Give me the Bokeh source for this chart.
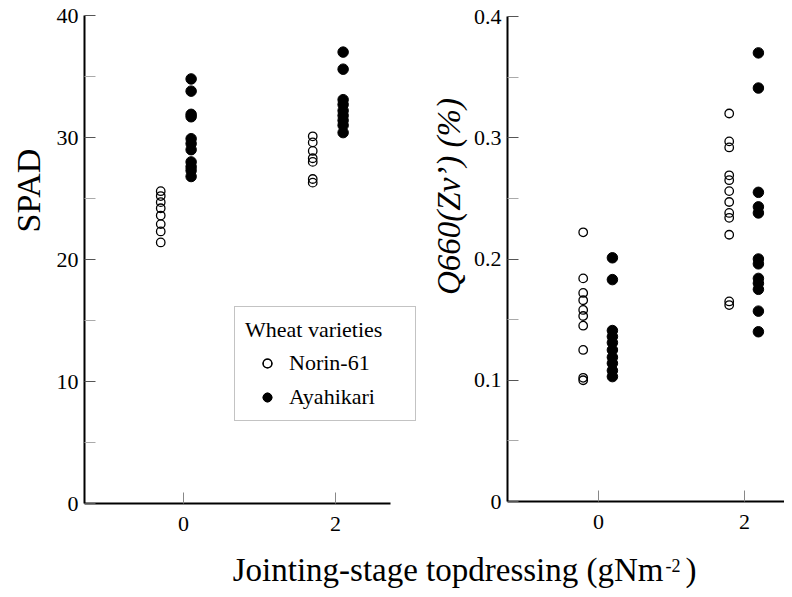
from bokeh.plotting import figure
from bokeh.models import (Legend, LegendItem, Label, LinearAxis, FixedTicker, Range1d)
from bokeh.embed import file_html
from bokeh.resources import INLINE

# ---------------- data ----------------
dose_levels = [0, 2]
# SPAD (left panel)
spad_norin_0 = [25.6, 25.2, 24.7, 24.2, 23.6, 22.9, 22.3, 21.4]
spad_aya_0 = [34.8, 33.8, 31.9, 31.7, 29.9, 29.5, 29.0, 28.0, 27.6, 27.3, 26.8]
spad_norin_2 = [30.1, 29.6, 28.9, 28.3, 28.0, 26.6, 26.3]
spad_aya_2 = [37.0, 35.6, 33.1, 32.7, 32.2, 31.8, 31.4, 31.0, 30.4]
# Q660(Zv') (right panel)
q_norin_0 = [0.222, 0.184, 0.172, 0.166, 0.158, 0.153, 0.145, 0.125, 0.102, 0.100]
q_aya_0 = [0.201, 0.183, 0.141, 0.136, 0.131, 0.125, 0.119, 0.114, 0.108, 0.103]
q_norin_2 = [0.320, 0.297, 0.292, 0.269, 0.265, 0.256, 0.247, 0.238, 0.234, 0.220, 0.165, 0.162]
q_aya_2 = [0.370, 0.341, 0.255, 0.243, 0.238, 0.200, 0.196, 0.184, 0.180, 0.175, 0.157, 0.140]
# horizontal offsets of the two varieties around each dose (data units)
spad_offsets = {"Norin-61": -0.3, "Ayahikari": 0.1}
q_offsets = {"Norin-61": -0.21, "Ayahikari": 0.19}

x_ticks = [0, 2]
spad_ticks = [0, 10, 20, 30, 40]
spad_minor = [5, 15, 25, 35]
q_ticks = [0, 0.1, 0.2, 0.3, 0.4]
q_minor = [0.05, 0.15, 0.25, 0.35]

FONT = "Liberation Serif"
OPEN = dict(marker="circle", size=8.5, line_color="black", line_width=1.3, fill_alpha=0)
FILLED = dict(marker="circle", size=10.5, line_color="black", fill_color="black")

# ---------------- canvas geometry (pixels) ----------------
W, H = 784, 589
# left panel: x=-1.303 at px 84, 76 px per unit; y=0 at py 503, 12.2 px per unit
L_X0, L_PX0, L_SX = -1.303, 84, 76.0
L_PY0, L_SY = 503, 488 / 40.0
# right panel: x=-1.247 at px 507, 73 px per unit; y=0 at py 501, 1212.5 px per unit
R_X0, R_PX0, R_SX = -1.247, 507, 73.0
R_PY0, R_SY = 501, 485 / 0.4

spad_xr = Range1d(L_X0 - L_PX0 / L_SX, L_X0 + (W - L_PX0) / L_SX)
spad_yr = Range1d((L_PY0 - H) / L_SY, L_PY0 / L_SY)
q_xr = Range1d(R_X0 - R_PX0 / R_SX, R_X0 + (W - R_PX0) / R_SX)
q_yr = Range1d((R_PY0 - H) / R_SY, R_PY0 / R_SY)

p = figure(width=W, height=H, min_border=0, x_range=spad_xr, y_range=spad_yr,
           x_axis_type=None, y_axis_type=None,
           output_backend="svg", toolbar_location=None)
p.extra_x_ranges = {"qx": q_xr}
p.extra_y_ranges = {"qy": q_yr}
p.outline_line_color = None
p.grid.visible = False


def make_axis(kind, ticks, minor, bounds, loc, **names):
    ax = LinearAxis(fixed_location=loc, bounds=bounds,
                    ticker=FixedTicker(ticks=ticks, minor_ticks=minor), **names)
    ax.axis_line_width = 2
    ax.axis_line_color = "black"
    ax.major_label_text_font = FONT
    ax.major_label_text_font_size = "22px"
    ax.major_label_text_color = "black"
    ax.major_tick_out = 0
    ax.major_tick_in = 11
    ax.minor_tick_out = 0
    ax.minor_tick_in = 11
    if kind == "x":
        ax.major_tick_line_color = "#888888"
        ax.major_label_standoff = 13
    else:
        ax.major_tick_line_color = "#555555"
        ax.minor_tick_line_color = "#aaaaaa"
        ax.major_label_standoff = 6
    return ax


spad_x_end = L_X0 + (390 - L_PX0) / L_SX
q_x_end = R_X0 + (W - R_PX0) / R_SX
p.add_layout(make_axis("x", x_ticks, [], (L_X0, spad_x_end), 0), "below")
p.add_layout(make_axis("y", spad_ticks, spad_minor, (0, 40), L_X0), "left")
p.add_layout(make_axis("x", x_ticks, [], (R_X0, q_x_end), 0,
                       x_range_name="qx", y_range_name="qy"), "below")
p.add_layout(make_axis("y", q_ticks, q_minor, (0, 0.4), R_X0,
                       x_range_name="qx", y_range_name="qy"), "left")

# ---------------- left panel marks ----------------
rn0 = p.scatter([dose_levels[0] + spad_offsets["Norin-61"]] * len(spad_norin_0), spad_norin_0, **OPEN)
rn2 = p.scatter([dose_levels[1] + spad_offsets["Norin-61"]] * len(spad_norin_2), spad_norin_2, **OPEN)
ra0 = p.scatter([dose_levels[0] + spad_offsets["Ayahikari"]] * len(spad_aya_0), spad_aya_0, **FILLED)
ra2 = p.scatter([dose_levels[1] + spad_offsets["Ayahikari"]] * len(spad_aya_2), spad_aya_2, **FILLED)

# ---------------- right panel marks ----------------
qkw = dict(x_range_name="qx", y_range_name="qy")
p.scatter([dose_levels[0] + q_offsets["Norin-61"]] * len(q_norin_0), q_norin_0, **OPEN, **qkw)
p.scatter([dose_levels[1] + q_offsets["Norin-61"]] * len(q_norin_2), q_norin_2, **OPEN, **qkw)
p.scatter([dose_levels[0] + q_offsets["Ayahikari"]] * len(q_aya_0), q_aya_0, **FILLED, **qkw)
p.scatter([dose_levels[1] + q_offsets["Ayahikari"]] * len(q_aya_2), q_aya_2, **FILLED, **qkw)

# ---------------- legend ----------------
legend = Legend(items=[LegendItem(label="Norin-61", renderers=[rn0, rn2]),
                       LegendItem(label="Ayahikari", renderers=[ra0, ra2])],
                location=(234, H - 421), title="Wheat varieties",
                title_text_font=FONT, title_text_font_size="22px", title_text_font_style="normal",
                title_text_color="black",
                label_text_font=FONT, label_text_font_size="22px", label_text_color="black",
                padding=10, spacing=8, glyph_width=44, glyph_height=22, label_height=22,
                label_standoff=0, label_width=116, title_standoff=7,
                border_line_color="#888888", border_line_width=1,
                background_fill_color="white", background_fill_alpha=1)
p.add_layout(legend, "center")

# ---------------- axis titles (anchored at the middle of the text) ----------------
p.add_layout(Label(x=28, y=H - 190, x_units="screen", y_units="screen", text="SPAD",
                   angle=1.5707963, text_align="center", text_baseline="middle",
                   text_font=FONT, text_font_size="34px", text_color="black"))
p.add_layout(Label(x=448, y=H - 196, x_units="screen", y_units="screen", text="Q660(Zv’) (%)",
                   angle=1.5707963, text_align="center", text_baseline="middle",
                   text_font=FONT, text_font_size="33px", text_font_style="italic",
                   text_color="black"))
p.add_layout(Label(x=663, y=H - 569, x_units="screen", y_units="screen",
                   text="Jointing-stage topdressing (gNm", text_align="right",
                   text_baseline="middle", text_font=FONT, text_font_size="33px",
                   text_color="black"))
p.add_layout(Label(x=665, y=H - 565, x_units="screen", y_units="screen", text="-2",
                   text_align="left", text_baseline="middle", text_font=FONT,
                   text_font_size="18px", text_color="black"))
p.add_layout(Label(x=685, y=H - 569, x_units="screen", y_units="screen", text=")",
                   text_align="left", text_baseline="middle", text_font=FONT,
                   text_font_size="33px", text_color="black"))

open("out.html", "w").write(file_html(p, INLINE))
